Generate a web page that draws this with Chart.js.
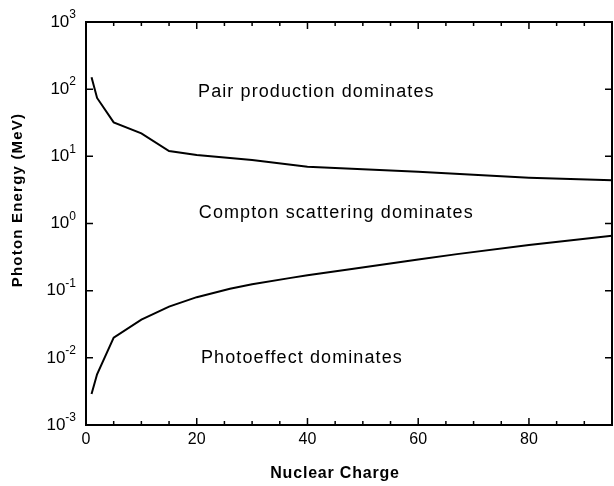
<!DOCTYPE html>
<html>
<head>
<meta charset="utf-8">
<script src="https://cdn.jsdelivr.net/npm/chart.js@4.4.1/dist/chart.umd.min.js"></script>
<style>
  body { margin: 0; background: #fff; }
  #wrap { width: 614px; height: 486px; position: relative; }
</style>
</head>
<body>
<div id="wrap"><canvas id="chart"></canvas></div>
<script>
// upper boundary: pair production / compton
const pairZ = [1, 2, 5, 10, 15, 20, 30, 40, 50, 60, 70, 80, 95];
const pairEnergy = [150, 74, 32, 22, 12, 10.5, 8.8, 7.0, 6.4, 5.9, 5.3, 4.8, 4.4];

// lower boundary: photoeffect / compton
const photoZ = [1, 2, 5, 10, 15, 20, 26, 30, 37, 40, 48, 60, 67, 80, 95];
const photoEnergy = [0.0029, 0.0057, 0.02, 0.037, 0.058, 0.08, 0.107, 0.125, 0.155, 0.17, 0.21, 0.29, 0.35, 0.48, 0.66];

const xTicks = [0, 20, 40, 60, 80];
const xMinorTicks = [5, 10, 15, 25, 30, 35, 45, 50, 55, 65, 70, 75, 85, 90];
const yTicks = [0.001, 0.01, 0.1, 1, 10, 100, 1000];
const yTickExponents = ['-3', '-2', '-1', '0', '1', '2', '3'];

const regionLabels = [
    { text: 'Pair production dominates', z: 41.6, e: 90 },
    { text: 'Compton scattering dominates', z: 45.2, e: 1.41 },
    { text: 'Photoeffect dominates', z: 39.0, e: 0.0098 }
];

const FONT = "'Liberation Sans', Arial, Helvetica, sans-serif";

function toPoints(xs, ys) {
    return xs.map((x, i) => ({ x: x, y: ys[i] }));
}

// frame, inward ticks, power-of-ten labels, titles and region labels
const framePlugin = {
    id: 'frame',
    afterDraw(chart) {
        const ctx = chart.ctx;
        const a = chart.chartArea;
        const xs = chart.scales.x;
        const ys = chart.scales.y;
        ctx.save();
        ctx.strokeStyle = '#000';
        ctx.lineWidth = 2;
        ctx.strokeRect(a.left, a.top, a.right - a.left, a.bottom - a.top);

        ctx.lineWidth = 1.5;
        ctx.beginPath();
        xTicks.forEach(v => {
            const px = xs.getPixelForValue(v);
            ctx.moveTo(px, a.bottom); ctx.lineTo(px, a.bottom - 7);
            ctx.moveTo(px, a.top); ctx.lineTo(px, a.top + 7);
        });
        xMinorTicks.forEach(v => {
            const px = xs.getPixelForValue(v);
            ctx.moveTo(px, a.bottom); ctx.lineTo(px, a.bottom - 4);
            ctx.moveTo(px, a.top); ctx.lineTo(px, a.top + 4);
        });
        yTicks.forEach(v => {
            const py = ys.getPixelForValue(v);
            ctx.moveTo(a.left, py); ctx.lineTo(a.left + 7, py);
            ctx.moveTo(a.right, py); ctx.lineTo(a.right - 7, py);
        });
        ctx.stroke();

        ctx.fillStyle = '#000';
        ctx.textBaseline = 'middle';

        // y tick labels: 10 with raised exponent
        const right = a.left - 10;
        yTicks.forEach((v, i) => {
            const py = ys.getPixelForValue(v);
            ctx.font = '12px ' + FONT;
            const ew = ctx.measureText(yTickExponents[i]).width;
            ctx.textAlign = 'left';
            ctx.fillText(yTickExponents[i], right - ew, py - 7);
            ctx.font = '17px ' + FONT;
            ctx.textAlign = 'right';
            ctx.fillText('10', right - ew, py);
        });

        // axis titles
        ctx.textAlign = 'center';
        ctx.font = 'bold 16px ' + FONT;
        ctx.letterSpacing = '0.8px';
        ctx.fillText('Nuclear Charge', (a.left + a.right) / 2 - 14, 474);
        ctx.save();
        ctx.translate(18, 200);
        ctx.rotate(-Math.PI / 2);
        ctx.font = 'bold 15px ' + FONT;
        ctx.letterSpacing = '1.2px';
        ctx.fillText('Photon Energy (MeV)', 0, 0);
        ctx.restore();

        ctx.font = '18px ' + FONT;
        ctx.letterSpacing = '1.1px';
        regionLabels.forEach(l => {
            ctx.fillText(l.text, xs.getPixelForValue(l.z), ys.getPixelForValue(l.e));
        });
        ctx.restore();
    }
};

const ctx = document.getElementById('chart').getContext('2d');
new Chart(ctx, {
    type: 'scatter',
    data: {
        datasets: [{
            label: 'Pair production',
            data: toPoints(pairZ, pairEnergy),
            showLine: true,
            borderColor: '#000',
            borderWidth: 2,
            pointRadius: 0,
            tension: 0
        }, {
            label: 'Photoeffect',
            data: toPoints(photoZ, photoEnergy),
            showLine: true,
            borderColor: '#000',
            borderWidth: 2,
            pointRadius: 0,
            tension: 0
        }]
    },
    options: {
        responsive: true,
        maintainAspectRatio: false,
        animation: false,
        layout: { padding: { top: 22, right: 2, left: 4, bottom: 0 } },
        plugins: {
            legend: { display: false },
            tooltip: { enabled: false }
        },
        scales: {
            x: {
                type: 'linear',
                min: 0,
                max: 95,
                afterBuildTicks: s => { s.ticks = xTicks.map(v => ({ value: v })); },
                afterFit: s => { s.height = 61; },
                grid: { display: false, drawTicks: false },
                border: { display: false },
                ticks: {
                    color: '#000',
                    padding: 5,
                    maxRotation: 0,
                    font: { family: FONT, size: 16 }
                }
            },
            y: {
                type: 'logarithmic',
                min: 0.001,
                max: 1000,
                afterBuildTicks: s => { s.ticks = yTicks.map(v => ({ value: v })); },
                afterFit: s => { s.width = 82; },
                grid: { display: false, drawTicks: false },
                border: { display: false },
                ticks: { display: false }
            }
        }
    },
    plugins: [framePlugin]
});
</script>
</body>
</html>
